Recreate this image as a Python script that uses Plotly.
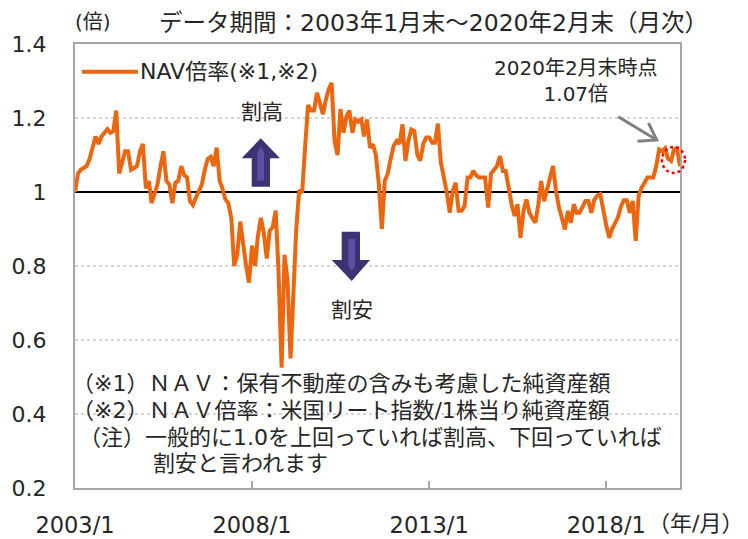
import pandas as pd
import plotly.graph_objects as go

# ---- data (monthly 2003/1 - 2020/2) ----
nav_ratio = [
    1.00, 1.05, 1.06, 1.065, 1.07, 1.09, 1.12, 1.15, 1.13, 1.15, 1.16, 1.17,      # 2003
    1.16, 1.165, 1.22, 1.05, 1.08, 1.11, 1.11, 1.06, 1.065, 1.07, 1.11, 1.13,     # 2004
    1.01, 1.03, 0.97, 1.00, 1.02, 1.07, 1.11, 1.03, 1.02, 0.97, 1.025, 1.03,      # 2005
    1.07, 1.045, 1.04, 0.975, 0.965, 0.985, 1.005, 1.02, 1.06, 1.09, 1.095, 1.07, # 2006
    1.12, 1.03, 1.01, 0.98, 0.97, 0.93, 0.80, 0.83, 0.92, 0.85, 0.80, 0.755,      # 2007
    0.855, 0.80, 0.88, 0.93, 0.89, 0.82, 0.895, 0.905, 0.95, 0.78, 0.525, 0.83,   # 2008
    0.76, 0.55, 0.70, 0.90, 1.005, 0.998, 1.12, 1.235, 1.22, 1.22, 1.268, 1.237,  # 2009
    1.21, 1.25, 1.277, 1.295, 1.138, 1.10, 1.224, 1.16, 1.205, 1.22, 1.16, 1.196, # 2010
    1.19, 1.196, 1.15, 1.196, 1.12, 1.129, 1.10, 1.02, 0.90, 1.03, 1.05, 1.09,    # 2011
    1.125, 1.138, 1.13, 1.183, 1.084, 1.138, 1.169, 1.165, 1.10, 1.085, 1.13, 1.147,  # 2012
    1.147, 1.133, 1.133, 1.185, 1.08, 1.04, 1.00, 0.944, 1.003, 1.025, 0.949, 0.949,  # 2013
    0.962, 1.039, 1.039, 1.057, 1.045, 1.039, 1.039, 1.039, 0.958, 1.05, 1.06, 1.07,  # 2014
    1.097, 1.057, 1.057, 1.003, 0.967, 0.935, 0.967, 0.876, 0.949, 0.98, 0.944, 0.93, # 2015
    0.917, 0.967, 1.03, 0.975, 1.01, 1.04, 1.07, 1.003, 0.958, 0.93, 0.899, 0.949,    # 2016
    0.917, 0.967, 0.944, 0.944, 0.96, 0.976, 0.976, 0.944, 0.98, 0.99, 0.994, 0.949,  # 2017
    0.91, 0.876, 0.899, 0.915, 0.931, 0.96, 0.978, 0.978, 0.944, 0.976, 0.868, 0.989, # 2018
    1.012, 1.025, 1.039, 1.039, 1.039, 1.07, 1.115, 1.11, 1.118, 1.09, 1.084, 1.115,  # 2019
    1.118, 1.07,                                                                        # 2020
]
months = pd.date_range("2003-01-01", periods=len(nav_ratio), freq="MS")

x_tick_vals = ["2003-01-01", "2008-01-01", "2013-01-01", "2018-01-01"]
x_tick_text = ["2003/1", "2008/1", "2013/1", "2018/1"]
y_tick_vals = [0.2, 0.4, 0.6, 0.8, 1.0, 1.2, 1.4]
y_tick_text = ["0.2", "0.4", "0.6", "0.8", "1", "1.2", "1.4"]
y_grid_vals = [0.4, 0.6, 0.8, 1.2]
baseline = 1.0

series_name = "NAV倍率(※1,※2)"
title_text = "データ期間：2003年1月末～2020年2月末（月次）"
unit_text = "(倍)"
xunit_text = "（年/月）"
callout_text = "2020年2月末時点<br>1.07倍"
notes = [
    "（※1）ＮＡＶ：保有不動産の含みも考慮した純資産額",
    "（※2）ＮＡＶ倍率：米国リート指数/1株当り純資産額",
    "（注）一般的に1.0を上回っていれば割高、下回っていれば",
    "割安と言われます",
]

# ---- layout helpers (screen pixel -> paper); page body adds an 8px offset ----
OX, OY = 8, 8
W, H = 740, 531
L, R, T, B = 67, 68, 36, 51
PW, PH = W - L - R, H - T - B


def px(x):
    return (x - OX - L) / PW


def py(y):
    return (OY + H - B - y) / PH


FONT = "DejaVu Sans, Noto Sans CJK JP, sans-serif"
ORANGE = "#EB660F"
TXT = "#262626"

fig = go.Figure()
fig.add_trace(go.Scatter(x=months, y=nav_ratio, mode="lines",
                         line=dict(color=ORANGE, width=4), name=series_name,
                         showlegend=False))

shapes = []
for g in y_grid_vals:
    shapes.append(dict(type="line", xref="paper", yref="y", x0=0, x1=1, y0=g, y1=g,
                       line=dict(color="#C8C8C8", width=1.5, dash="dot"), layer="below"))
shapes.append(dict(type="line", xref="paper", yref="y", x0=0, x1=1, y0=baseline, y1=baseline,
                   line=dict(color="black", width=2), layer="below"))
# legend line
shapes.append(dict(type="line", xref="paper", yref="paper", x0=px(82), x1=px(138),
                   y0=py(71.7), y1=py(71.7), line=dict(color=ORANGE, width=4)))


def poly(pts):
    return "M " + " L ".join(f"{px(a):.5f},{py(b):.5f}" for a, b in pts) + " Z"


NAVY = "#3C3373"
INNER = "#5B4FA5"
up_outer = [(260.7, 138.3), (280, 158.3), (270, 158.3), (270, 186.7),
            (251.7, 186.7), (251.7, 158.3), (241.7, 158.3)]
up_inner = [(257.3, 180.7), (257.3, 152), (260.7, 147), (264, 152), (264, 180.7)]
dn_outer = [(341.7, 231.7), (360, 231.7), (360, 260), (370, 260), (351.7, 281),
            (331.7, 260), (341.7, 260)]
dn_inner = [(348.3, 239), (355, 239), (355, 266), (351.7, 271), (348.3, 266)]
for pts, col in [(up_outer, NAVY), (up_inner, INNER), (dn_outer, NAVY), (dn_inner, INNER)]:
    shapes.append(dict(type="path", xref="paper", yref="paper", path=poly(pts),
                       fillcolor=col, line=dict(width=0)))

# gray callout arrow
shapes.append(dict(type="line", xref="paper", yref="paper", x0=px(618.3), y0=py(116.7),
                   x1=px(656.7), y1=py(140), line=dict(color="#808080", width=3)))
shapes.append(dict(type="path", xref="paper", yref="paper",
                   path=f"M {px(648.5):.5f},{py(123):.5f} L {px(656.7):.5f},{py(140):.5f} L {px(637.5):.5f},{py(141.3):.5f}",
                   line=dict(color="#808080", width=3)))
# red dotted circle
shapes.append(dict(type="circle", xref="paper", yref="paper", x0=px(662), x1=px(685),
                   y0=py(173), y1=py(147), line=dict(color="#FF0000", width=2.5, dash="dot")))

ann = []


def text(t, x, y, size, xanchor="left"):
    ann.append(dict(text=t, xref="paper", yref="paper", x=px(x), y=py(y), xanchor=xanchor,
                    yanchor="middle", showarrow=False, borderpad=0,
                    font=dict(family=FONT, size=size, color=TXT)))


text(unit_text, 93, 21.5, 20, "center")
text(title_text, 158, 23, 23.5)
text(series_name, 139, 71.7, 22)
text("割高", 261.7, 111.7, 21, "center")
text("割安", 351.7, 310, 21, "center")
ann.append(dict(text=callout_text, xref="paper", yref="paper", x=px(576), y=py(81),
                xanchor="center", yanchor="middle", showarrow=False, align="center",
                font=dict(family=FONT, size=20, color=TXT)))
text(xunit_text, 695, 523, 22, "center")
text(notes[0], 71, 383, 22)
text(notes[1], 71, 410, 22)
text(notes[2], 78, 437, 22)
text(notes[3], 152, 463, 22)

fig.update_layout(
    width=W, height=H,
    margin=dict(l=L, r=R, t=T, b=B, autoexpand=False),
    paper_bgcolor="white", plot_bgcolor="white",
    font=dict(family=FONT, color=TXT),
    shapes=shapes, annotations=ann, showlegend=False,
    xaxis=dict(type="date", range=["2003-01-01", "2020-02-01"], automargin=False,
               tickvals=x_tick_vals, ticktext=x_tick_text,
               ticks="inside", ticklen=7, tickwidth=1.5, tickcolor="#A6A6A6",
               showgrid=False, zeroline=False, showline=True, mirror=True,
               linecolor="#A6A6A6", linewidth=2, ticklabelstandoff=16,
               tickfont=dict(family=FONT, size=22.5, color=TXT)),
    yaxis=dict(range=[0.2, 1.4], tickvals=y_tick_vals, ticktext=y_tick_text, automargin=False,
               ticks="", showgrid=False,
               zeroline=False, showline=True, mirror=True,
               linecolor="#A6A6A6", linewidth=2, ticklabelstandoff=22,
               tickfont=dict(family=FONT, size=22, color=TXT)),
)

fig.write_html("out.html")
